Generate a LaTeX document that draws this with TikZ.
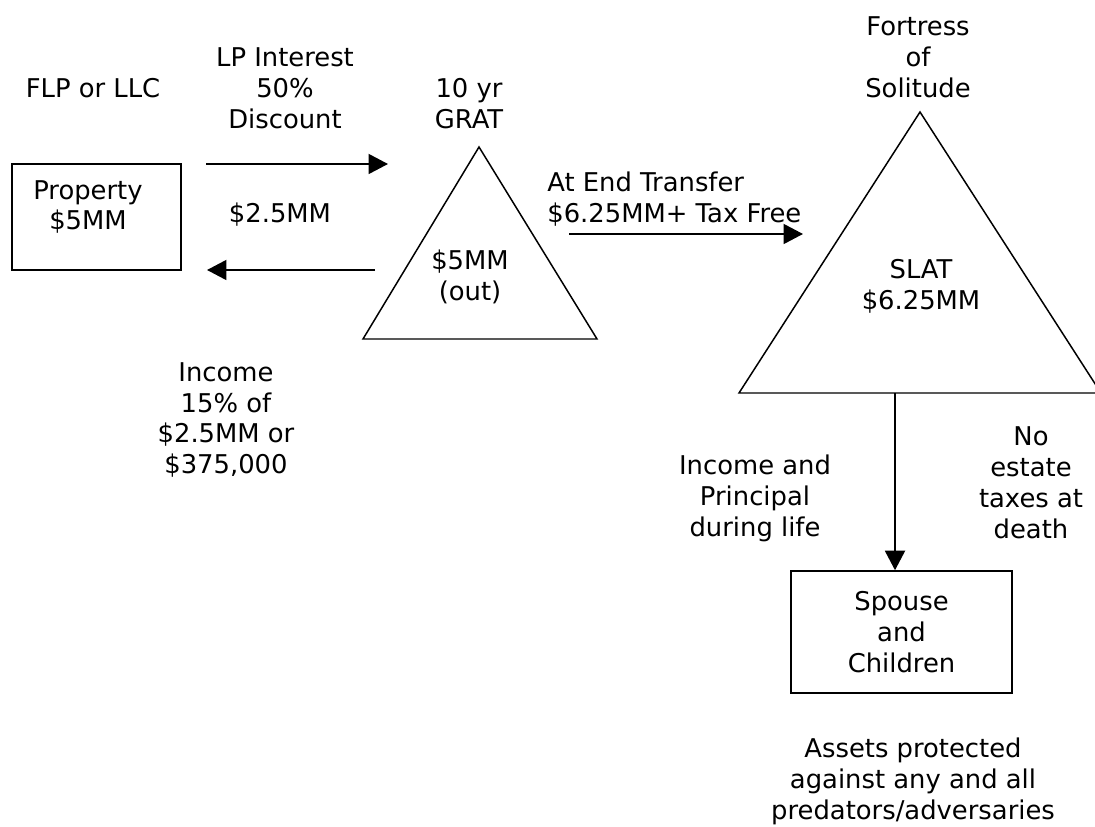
\documentclass[tikz,border=0pt]{standalone}
\usepackage{fontspec}
\setmainfont{DejaVu Sans}
\usepackage{tikz}
\usetikzlibrary{shapes.geometric, arrows.meta, positioning, calc}

\tikzset{
  txt/.style={font=\fontsize{14.7}{17.6}\selectfont, align=center, inner sep=0pt},
  box/.style={draw, line width=0.9pt, inner sep=0pt},
  trust/.style={draw, line width=0.85pt, line join=miter},
  flow/.style={line width=1.1pt, -{Triangle[length=0.39cm, width=0.4cm]}}
}

\begin{document}
\begin{tikzpicture}[x=0.02cm, y=-0.02cm]
    \useasboundingbox (0,0) rectangle (1095,827);
    \clip (0,0) rectangle (1095,827);

    % Entity and property
    \node[txt] (flp) at (93,88) {FLP or LLC};
    \node[box, minimum width=3.38cm, minimum height=2.12cm] (prop) at (96.5,217) {};
    \node[txt] (propt) at (88,207) {Property\\\$5MM};

    % Transfers to and from the GRAT
    \node[txt] (lpint) at (285,88) {LP Interest\\50\%\\Discount};
    \node[txt] (pay) at (280,215) {\$2.5MM};
    \node[txt] (income) at (226,420) {Income\\15\% of\\\$2.5MM or\\\$375,000};

    % GRAT triangle
    \coordinate (gtop) at (479,147);
    \coordinate (gleft) at (363,339);
    \coordinate (gright) at (597,339);
    \draw[trust] (gtop) -- (gleft) -- (gright) -- cycle;
    \node[txt] (gratlbl) at (469,104) {10 yr\\GRAT};
    \node[txt] (gratin) at (470,277) {\$5MM\\(out)};

    % SLAT triangle
    \coordinate (stop) at (920,112);
    \coordinate (sleft) at (739,393);
    \coordinate (sright) at (1101,393);
    \draw[trust] (stop) -- (sleft) -- (sright) -- cycle;
    \node[txt] (fort) at (918,57) {Fortress\\of\\Solitude};
    \node[txt] (slat) at (921,286) {SLAT\\\$6.25MM};
    \node[txt, anchor=west, align=left] (atend) at (547,199) {At End Transfer\\\$6.25MM+ Tax Free};

    % Beneficiaries
    \node[box, txt, draw, line width=0.9pt, minimum width=4.42cm, minimum height=2.44cm] (spouse) at (901.5,632) {Spouse\\and\\Children};
    \node[txt] (incprin) at (755,498) {Income and\\Principal\\during life};
    \node[txt] (noest) at (1031,483) {No\\estate\\taxes at\\death};
    \node[txt] (assets) at (913,781) {Assets protected\\against any and all\\predators/adversaries};

    % Arrows
    \coordinate (a1s) at (206,164);
    \coordinate (a1e) at (388,164);
    \coordinate (a2s) at (375,270);
    \coordinate (a2e) at (207,270);
    \coordinate (a3s) at (569,234);
    \coordinate (a3e) at (803,234);
    \coordinate (sbase) at (895,393);
    \draw[flow] (a1s) -- (a1e);
    \draw[flow] (a2s) -- (a2e);
    \draw[flow] (a3s) -- (a3e);
    \draw[flow] (sbase) -- (sbase |- spouse.north);
\end{tikzpicture}
\end{document}
